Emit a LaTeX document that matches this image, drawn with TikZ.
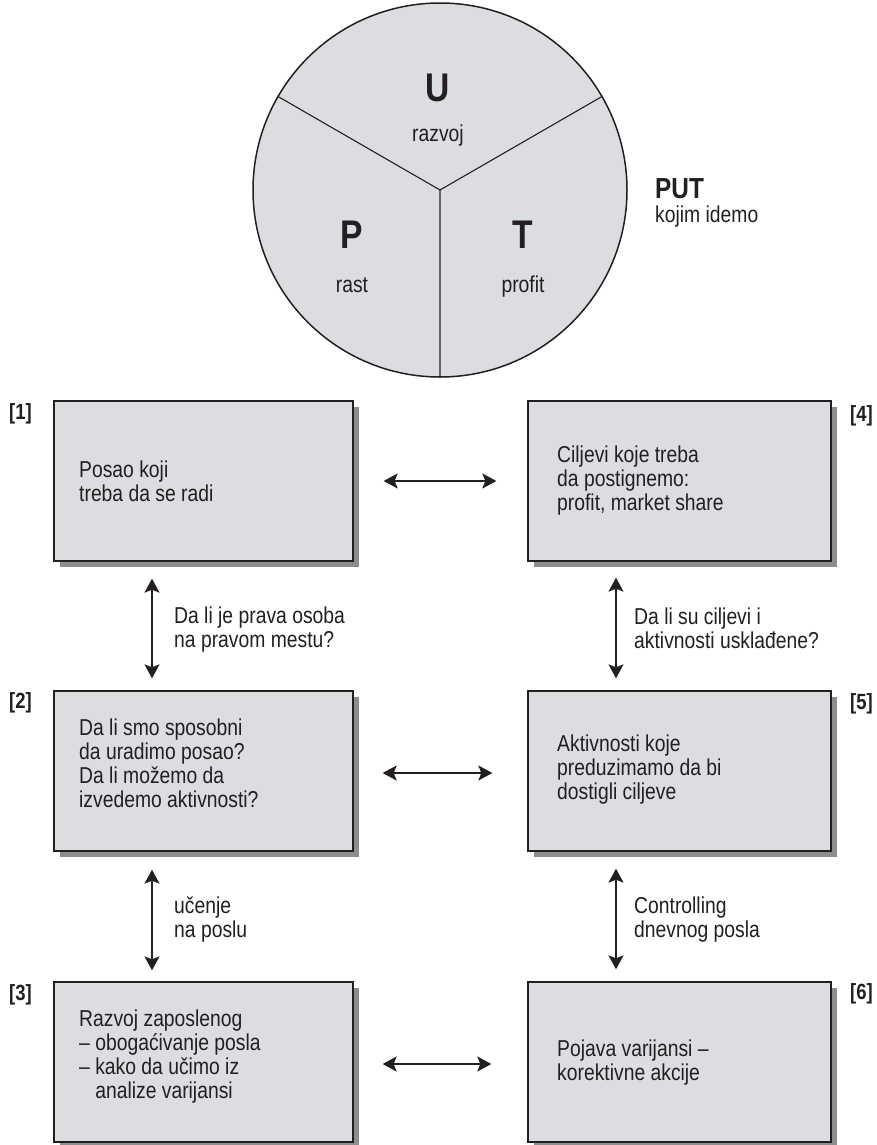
\documentclass[tikz,border=0pt]{standalone}
\usepackage{fontspec}
\setmainfont{Liberation Sans}[FakeStretch=0.84]
\usetikzlibrary{arrows.meta,shadows}
\definecolor{boxfill}{HTML}{DCDDE0}
\definecolor{shade}{HTML}{8D8D90}
\definecolor{ink}{HTML}{231F20}
\newcommand{\ml}[1]{\begin{tabular}[t]{@{}l@{}}#1\end{tabular}}
\begin{document}
\begin{tikzpicture}[x=1pt,y=-1pt,
  box/.style={draw=ink, line width=1.3pt, fill=boxfill, minimum width=299pt, minimum height=160pt, inner sep=0pt,
    general shadow={fill=shade, shadow xshift=6pt, shadow yshift=-6pt}},
  rbox/.style={box, minimum width=303pt},
  txt/.style={anchor=base west, inner sep=0pt, text=ink, font=\fontsize{23}{24}\selectfont},
  big/.style={anchor=base, inner sep=0pt, text=ink, font=\fontsize{40}{40}\selectfont\bfseries},
  lbl/.style={inner sep=0pt, text=ink, font=\fontsize{22}{22}\selectfont\bfseries},
  arr/.style={draw=ink, line width=1.6pt, {Stealth[length=14pt,width=15pt,inset=3pt]}-{Stealth[length=14pt,width=15pt,inset=3pt]}}
]
\useasboundingbox (0,0) rectangle (877,1145);

% circle
\node[circle, draw=ink, line width=1.5pt, fill=boxfill, minimum size=374pt, inner sep=0pt] (put) at (440,190) {};
\draw[ink, line width=1.1pt] (put.center) -- (put.150) (put.center) -- (put.30) (put.center) -- (put.-90);
\node[big] (u) at (438,102) {U};
\node[txt, anchor=base] (uz) at (438,141) {razvoj};
\node[big] (p) at (352,248) {P};
\node[txt, anchor=base] (pz) at (352,292) {rast};
\node[big] (t) at (523,248) {T};
\node[txt, anchor=base] (tz) at (523,292) {profit};
\node[anchor=base west, inner sep=0pt, text=ink, font=\fontsize{29}{29}\selectfont\bfseries] (putlbl) at (655,198) {PUT};
\node[txt] (kojim) at (655,222) {kojim idemo};

% boxes
\node[box] (b1) at (203.5,481) {};
\node[box] (b2) at (203.5,771) {};
\node[box] (b3) at (203.5,1062) {};
\node[rbox] (b4) at (679.5,481) {};
\node[rbox] (b5) at (679.5,771) {};
\node[rbox] (b6) at (679.5,1062) {};

% numbers
\node[lbl, anchor=north west] (n1) at (9,403) {[1]};
\node[lbl, anchor=north west] (n2) at (9,692) {[2]};
\node[lbl, anchor=north west] (n3) at (9,984) {[3]};
\node[lbl, anchor=north east] (n4) at (873,405) {[4]};
\node[lbl, anchor=north east] (n5) at (873,693) {[5]};
\node[lbl, anchor=north east] (n6) at (873,983) {[6]};

% box texts
\node[txt] (t1) at (79,477) {\ml{Posao koji\\treba da se radi}};
\node[txt] (t4) at (557,462) {\ml{Ciljevi koje treba\\da postignemo:\\profit, market share}};
\node[txt] (t2) at (79,735) {\ml{Da li smo sposobni\\da uradimo posao?\\Da li možemo da\\izvedemo aktivnosti?}};
\node[txt] (t5) at (557,751) {\ml{Aktivnosti koje\\preduzimamo da bi\\dostigli ciljeve}};
\node[txt] (t3) at (79,1026) {\ml{Razvoj zaposlenog\\– obogaćivanje posla\\– kako da učimo iz\\\hphantom{– }analize varijansi}};
\node[txt] (t6) at (557,1056) {\ml{Pojava varijansi –\\korektivne akcije}};

% arrow labels
\node[txt] (q1) at (174,623) {\ml{Da li je prava osoba\\na pravom mestu?}};
\node[txt] (q2) at (634,624) {\ml{Da li su ciljevi i\\aktivnosti usklađene?}};
\node[txt] (q3) at (174,913) {\ml{učenje\\na poslu}};
\node[txt] (q4) at (634,913) {\ml{Controlling\\dnevnog posla}};

% arrows
\draw[arr, shorten <=30pt, shorten >=31pt] (b1.east) -- (b4.west);
\draw[arr, shorten <=29pt, shorten >=35pt] ([yshift=-2pt]b2.east) -- ([yshift=-2pt]b5.west);
\draw[arr, shorten <=29pt, shorten >=36pt] ([yshift=-2pt]b3.east) -- ([yshift=-2pt]b6.west);
\draw[arr, shorten <=17pt, shorten >=12pt] ([xshift=-51.5pt]b1.south) -- ([xshift=-51.5pt]b2.north);
\draw[arr, shorten <=18pt, shorten >=11pt] ([xshift=-51.5pt]b2.south) -- ([xshift=-51.5pt]b3.north);
\draw[arr, shorten <=16pt, shorten >=12pt] ([xshift=-63.5pt]b4.south) -- ([xshift=-63.5pt]b5.north);
\draw[arr, shorten <=17pt, shorten >=12pt] ([xshift=-63.5pt]b5.south) -- ([xshift=-63.5pt]b6.north);
\end{tikzpicture}
\end{document}
